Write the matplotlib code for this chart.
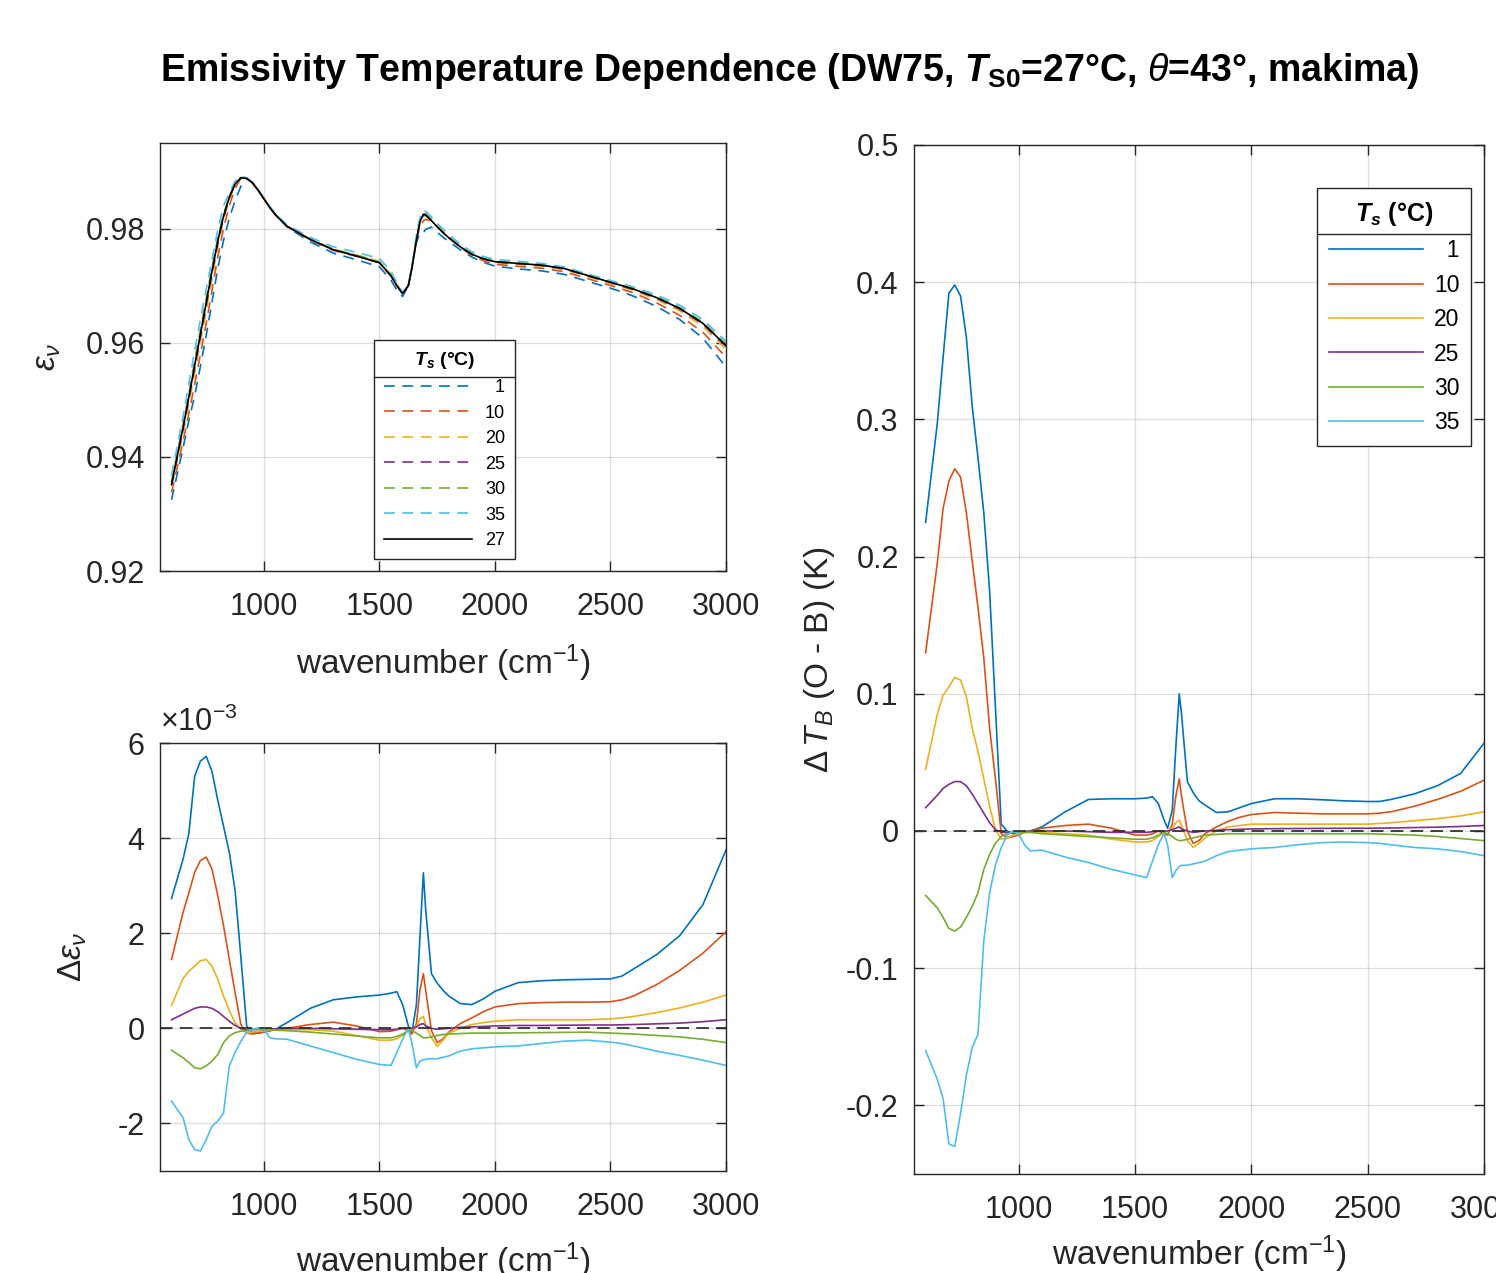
import matplotlib
matplotlib.use("Agg")
import matplotlib.pyplot as plt
import numpy as np
from matplotlib.lines import Line2D
from matplotlib.transforms import IdentityTransform
from matplotlib.ticker import FuncFormatter

# ---------------- data ----------------
wn = [600, 650, 675, 700, 725, 750, 775, 800, 825, 850,
      875, 900, 925, 950, 975, 1000, 1025, 1050, 1100, 1200,
      1300, 1400, 1500, 1550, 1575, 1600, 1625, 1640, 1660, 1675,
      1690, 1700, 1725, 1750, 1775, 1800, 1850, 1900, 1950, 2000,
      2100, 2200, 2300, 2400, 2500, 2550, 2600, 2700, 2800, 2900,
      3000]

ts_labels = ["1", "10", "20", "25", "30", "35"]
ref_label = "27"

# emissivity at the reference temperature (27 C)
eps_ref = [0.9352, 0.9452, 0.9505, 0.9560, 0.9615, 0.9670, 0.9725, 0.9778, 0.9822, 0.9855,
           0.9878, 0.9889, 0.9888, 0.9880, 0.9867, 0.9852, 0.9837, 0.9824, 0.9804, 0.9781,
           0.9763, 0.9752, 0.9740, 0.9717, 0.9700, 0.9686, 0.9700, 0.9730, 0.9780, 0.9812,
           0.9825, 0.9824, 0.9814, 0.9803, 0.9793, 0.9784, 0.9768, 0.9755, 0.9747, 0.9742,
           0.9739, 0.9736, 0.9730, 0.9718, 0.9706, 0.9700, 0.9694, 0.9679, 0.9660, 0.9634,
           0.9595]

# emissivity differences (units of 1e-3)
d_eps_1 = [2.73, 3.56, 4.1, 5.3, 5.62, 5.72, 5.4, 4.8, 4.25, 3.7,
           2.9, 1.5, 0.05, -0.1, -0.1, -0.08, -0.05, -0.02, 0.12, 0.42,
           0.6, 0.66, 0.7, 0.74, 0.77, 0.5, 0.05, -0.1, 0.5, 1.9,
           3.27, 2.5, 1.15, 0.95, 0.8, 0.68, 0.52, 0.5, 0.62, 0.78,
           0.96, 1.0, 1.02, 1.03, 1.04, 1.1, 1.25, 1.55, 1.95, 2.6,
           3.75]
d_eps_10 = [1.45, 2.44, 2.85, 3.28, 3.53, 3.6, 3.35, 2.79, 2.16, 1.45,
            0.75, 0.08, -0.1, -0.12, -0.1, -0.08, -0.05, -0.03, 0.0, 0.08,
            0.13, 0.05, -0.07, -0.06, -0.03, 0.0, -0.05, -0.12, 0.1, 0.8,
            1.15, 0.8, -0.05, -0.3, -0.22, -0.08, 0.1, 0.22, 0.35, 0.45,
            0.52, 0.54, 0.55, 0.55, 0.56, 0.6, 0.68, 0.92, 1.22, 1.58,
            2.03]
d_eps_20 = [0.48, 1.05, 1.2, 1.31, 1.42, 1.45, 1.31, 1.03, 0.68, 0.37,
            0.12, -0.02, -0.1, -0.08, -0.06, -0.05, -0.04, -0.03, -0.03, -0.03,
            -0.06, -0.15, -0.25, -0.25, -0.22, -0.15, -0.05, -0.02, 0.05, 0.2,
            0.25, 0.08, -0.2, -0.38, -0.25, -0.1, 0.0, 0.08, 0.12, 0.15,
            0.18, 0.18, 0.18, 0.18, 0.2, 0.22, 0.25, 0.33, 0.43, 0.55,
            0.7]
d_eps_25 = [0.18, 0.3, 0.36, 0.42, 0.45, 0.45, 0.42, 0.35, 0.25, 0.15,
            0.06, 0.0, -0.03, -0.03, -0.02, -0.02, -0.01, -0.01, 0.0, 0.0,
            -0.01, -0.02, -0.03, -0.03, -0.02, 0.0, 0.0, 0.0, 0.03, 0.08,
            0.1, 0.05, 0.0, -0.02, -0.01, 0.0, 0.02, 0.03, 0.04, 0.05,
            0.06, 0.06, 0.065, 0.07, 0.07, 0.075, 0.08, 0.095, 0.11, 0.14,
            0.18]
d_eps_30 = [-0.46, -0.62, -0.72, -0.83, -0.85, -0.79, -0.69, -0.55, -0.3, -0.16,
            -0.09, -0.06, -0.04, -0.02, -0.02, -0.03, -0.03, -0.04, -0.05, -0.08,
            -0.12, -0.16, -0.2, -0.2, -0.17, -0.12, -0.05, -0.05, -0.1, -0.15,
            -0.2, -0.2, -0.18, -0.15, -0.13, -0.12, -0.11, -0.1, -0.1, -0.1,
            -0.095, -0.09, -0.085, -0.08, -0.1, -0.11, -0.12, -0.15, -0.18, -0.23,
            -0.3]
d_eps_35 = [-1.53, -1.88, -2.34, -2.55, -2.58, -2.34, -2.06, -1.95, -1.78, -0.79,
            -0.51, -0.27, -0.09, -0.02, 0.01, -0.02, -0.2, -0.22, -0.23, -0.37,
            -0.51, -0.65, -0.76, -0.78, -0.51, -0.23, 0.0, -0.3, -0.83, -0.69,
            -0.66, -0.65, -0.64, -0.64, -0.61, -0.58, -0.48, -0.43, -0.41, -0.39,
            -0.37, -0.32, -0.27, -0.25, -0.29, -0.32, -0.37, -0.48, -0.57, -0.67,
            -0.78]

# brightness temperature differences (K)
dtb_1 = [0.225, 0.297, 0.345, 0.392, 0.398, 0.39, 0.36, 0.31, 0.272, 0.232,
         0.175, 0.09, 0.005, 0.0, -0.002, -0.002, -0.001, 0.0, 0.003, 0.014,
         0.023, 0.0235, 0.0235, 0.024, 0.025, 0.02, 0.008, 0.002, 0.015, 0.06,
         0.1, 0.085, 0.036, 0.028, 0.022, 0.019, 0.0135, 0.014, 0.017, 0.02,
         0.0235, 0.0235, 0.0228, 0.022, 0.0215, 0.0215, 0.023, 0.027, 0.033, 0.042,
         0.064]
dtb_10 = [0.13, 0.195, 0.235, 0.255, 0.264, 0.258, 0.232, 0.197, 0.163, 0.126,
          0.075, 0.038, -0.002, -0.005, -0.004, -0.003, -0.001, 0.0, 0.002, 0.004,
          0.005, 0.002, -0.003, -0.003, -0.002, 0.0, -0.002, -0.003, 0.005, 0.025,
          0.038, 0.025, 0.0, -0.009, -0.007, -0.002, 0.003, 0.007, 0.01, 0.012,
          0.0135, 0.013, 0.0125, 0.0125, 0.0125, 0.013, 0.014, 0.018, 0.023, 0.029,
          0.037]
dtb_20 = [0.045, 0.085, 0.099, 0.105, 0.112, 0.11, 0.098, 0.075, 0.058, 0.038,
          0.018, 0.001, -0.006, -0.005, -0.003, -0.002, -0.001, -0.001, -0.001, -0.002,
          -0.003, -0.006, -0.008, -0.008, -0.007, -0.004, -0.001, 0.0, 0.002, 0.006,
          0.008, 0.004, -0.007, -0.012, -0.009, -0.005, 0.0, 0.003, 0.004, 0.005,
          0.005, 0.005, 0.005, 0.005, 0.005, 0.0055, 0.006, 0.0075, 0.009, 0.011,
          0.014]
dtb_25 = [0.017, 0.026, 0.031, 0.034, 0.036, 0.036, 0.033, 0.027, 0.02, 0.013,
          0.006, 0.001, -0.001, -0.001, -0.001, -0.001, -0.0005, 0.0, 0.0, 0.0,
          -0.0005, -0.001, -0.001, -0.001, -0.0005, 0.0, 0.0, 0.0, 0.001, 0.002,
          0.003, 0.0015, 0.0, -0.001, -0.0005, 0.0, 0.0005, 0.001, 0.0012, 0.0015,
          0.0017, 0.0018, 0.0019, 0.002, 0.002, 0.0021, 0.0022, 0.0025, 0.0028, 0.0033,
          0.004]
dtb_30 = [-0.047, -0.056, -0.063, -0.071, -0.073, -0.07, -0.063, -0.055, -0.045, -0.028,
          -0.017, -0.009, -0.004, -0.002, -0.001, -0.001, -0.001, -0.001, -0.002, -0.003,
          -0.004, -0.005, -0.006, -0.006, -0.005, -0.003, -0.001, -0.002, -0.004, -0.006,
          -0.007, -0.007, -0.006, -0.005, -0.004, -0.003, -0.0025, -0.002, -0.002, -0.002,
          -0.002, -0.002, -0.002, -0.002, -0.002, -0.0022, -0.0025, -0.003, -0.004, -0.0055,
          -0.007]
dtb_35 = [-0.16, -0.181, -0.195, -0.228, -0.23, -0.206, -0.178, -0.158, -0.148, -0.08,
          -0.045, -0.025, -0.012, -0.003, 0.0, -0.002, -0.01, -0.0145, -0.014, -0.019,
          -0.023, -0.028, -0.032, -0.034, -0.022, -0.01, -0.002, -0.01, -0.034, -0.029,
          -0.026, -0.025, -0.025, -0.024, -0.023, -0.022, -0.018, -0.015, -0.014, -0.013,
          -0.012, -0.01, -0.0085, -0.008, -0.0085, -0.009, -0.01, -0.012, -0.013, -0.015,
          -0.018]

d_eps_all = [d_eps_1, d_eps_10, d_eps_20, d_eps_25, d_eps_30, d_eps_35]
dtb_all = [dtb_1, dtb_10, dtb_20, dtb_25, dtb_30, dtb_35]

# ---------------- style ----------------
colors = ["#0072BD", "#D95319", "#EDB120", "#7E2F8E", "#77AC30", "#4DBEEE"]
axcol = "#262626"
plt.rcParams.update({
    "font.family": ["Liberation Sans", "DejaVu Sans"],
    "mathtext.fontset": "custom",
    "mathtext.rm": "Liberation Sans",
    "mathtext.it": "Liberation Sans:italic",
    "mathtext.bf": "Liberation Sans:bold:italic",
    "mathtext.sf": "Liberation Sans:bold",
    "axes.unicode_minus": False,
    "axes.edgecolor": axcol,
    "axes.linewidth": 1.0,
    "xtick.color": axcol,
    "ytick.color": axcol,
    "axes.labelcolor": axcol,
})

W, H = 1496, 1273
fig = plt.figure(figsize=(W / 100, H / 100), dpi=100)
fig.patch.set_facecolor("white")

def frac_box(l, t, r, b):
    return [l / W, 1 - b / H, (r - l) / W, (b - t) / H]

ax1 = fig.add_axes(frac_box(160, 143, 726, 571))
ax2 = fig.add_axes(frac_box(160, 743, 726, 1171))
ax3 = fig.add_axes(frac_box(914, 145, 1484, 1174))

TICK_FS = 22
LAB_FS = 24

def style(ax):
    ax.grid(True, color=axcol, alpha=0.15, lw=0.9)
    ax.set_axisbelow(True)
    ax.tick_params(direction="in", top=True, right=True, length=7, width=1.0,
                   labelsize=TICK_FS, pad=11)
    ax.tick_params(axis="x", pad=15)
    ax.set_xlim(550, 3000)
    ax.set_xticks([1000, 1500, 2000, 2500, 3000])

wn_a = np.array(wn)

# --- top-left: emissivity ---
eps_ref_a = np.array(eps_ref)
for lab, d, c in zip(ts_labels, d_eps_all, colors):
    ax1.plot(wn_a, eps_ref_a - np.array(d) * 1e-3, color=c, lw=1.2,
             dashes=(6.5, 4.5), label=lab.rjust(2, "\u2007"))
ax1.plot(wn_a, eps_ref_a, color="k", lw=1.2, label=ref_label)
style(ax1)
ax1.set_ylim(0.92, 0.995)
ax1.set_yticks([0.92, 0.94, 0.96, 0.98])
ax1.set_yticklabels(["0.92", "0.94", "0.96", "0.98"])
ax1.set_xlabel(r"wavenumber (cm$^{-1}$)", fontsize=LAB_FS)
ax1.xaxis.set_label_coords(0.5, -0.168)
ax1.set_ylabel(r"$\epsilon_\nu$", fontsize=LAB_FS)
ax1.yaxis.set_label_coords(-0.172, 0.5)

leg1 = ax1.legend(loc="upper left", bbox_to_anchor=(0.378, 0.540), fontsize=13,
                  title=r"$\mathbf{T_s}$ (°C)", title_fontproperties={"size": 14, "weight": "bold"},
                  frameon=True, fancybox=False, edgecolor=axcol, framealpha=1,
                  handlelength=4.9, handletextpad=0.7, labelspacing=0.47,
                  borderpad=0.55, borderaxespad=0)
leg1.get_frame().set_linewidth(1.0)

# --- bottom-left: emissivity difference ---
for lab, d, c in zip(ts_labels, d_eps_all, colors):
    ax2.plot(wn_a, np.array(d) * 1e-3, color=c, lw=1.2)
ax2.axhline(0, color="#333333", lw=1.3, dashes=(7, 4))
style(ax2)
ax2.set_ylim(-3e-3, 6e-3)
ax2.set_yticks([-2e-3, 0, 2e-3, 4e-3, 6e-3])
ax2.yaxis.set_major_formatter(FuncFormatter(lambda v, p: f"{v * 1e3:g}"))
ax2.text(0.0, 1.012, r"$\times$10$^{\mathsf{-}3}$".replace(r"\mathsf{-}", "-"),
         transform=ax2.transAxes, ha="left", va="bottom", fontsize=TICK_FS, color=axcol)
ax2.set_xlabel(r"wavenumber (cm$^{-1}$)", fontsize=LAB_FS)
ax2.xaxis.set_label_coords(0.5, -0.162)
ax2.set_ylabel(r"$\Delta\epsilon_\nu$", fontsize=LAB_FS)
ax2.yaxis.set_label_coords(-0.125, 0.5)

# --- right: brightness temperature difference ---
for lab, d, c in zip(ts_labels, dtb_all, colors):
    ax3.plot(wn_a, d, color=c, lw=1.2, label=lab.rjust(2, "\u2007"))
ax3.axhline(0, color="#333333", lw=1.3, dashes=(7, 4))
style(ax3)
ax3.set_ylim(-0.25, 0.5)
yt3 = [-0.2, -0.1, 0, 0.1, 0.2, 0.3, 0.4, 0.5]
ax3.set_yticks(yt3)
ax3.set_yticklabels(["-0.2", "-0.1", "0", "0.1", "0.2", "0.3", "0.4", "0.5"])
ax3.set_xlabel(r"wavenumber (cm$^{-1}$)", fontsize=LAB_FS)
ax3.xaxis.set_label_coords(0.5, -0.058)
ax3.set_ylabel(r"$\Delta\,T_B$ (O - B) (K)", fontsize=LAB_FS)
ax3.yaxis.set_label_coords(-0.135, 0.5)

leg3 = ax3.legend(loc="upper left", bbox_to_anchor=(0.7075, 0.958), fontsize=16.5,
                  title=r"$\mathbf{T_s}$ (°C)", title_fontproperties={"size": 18, "weight": "bold"},
                  frameon=True, fancybox=False, edgecolor=axcol, framealpha=1,
                  handlelength=4.1, handletextpad=0.5, labelspacing=0.5,
                  borderpad=0.5, borderaxespad=0)
leg3.get_frame().set_linewidth(1.0)

# --- title ---
fig.text(0.528, 0.944,
         r"Emissivity Temperature Dependence (DW75, $\mathbf{T}_{\mathsf{S0}}$=27°C, $\theta$=43°, makima)",
         ha="center", va="center", fontsize=27, fontweight="bold", color="k")

# separator line under legend titles
fig.canvas.draw()
r = fig.canvas.get_renderer()
for leg in (leg1, leg3):
    bb = leg.get_frame().get_window_extent(r)
    tb = leg.get_title().get_window_extent(r)
    y = tb.y0 - 6
    fig.add_artist(Line2D([bb.x0, bb.x1], [y, y], transform=IdentityTransform(),
                          color=axcol, lw=1.0))

fig.savefig("out.png", dpi=100)
